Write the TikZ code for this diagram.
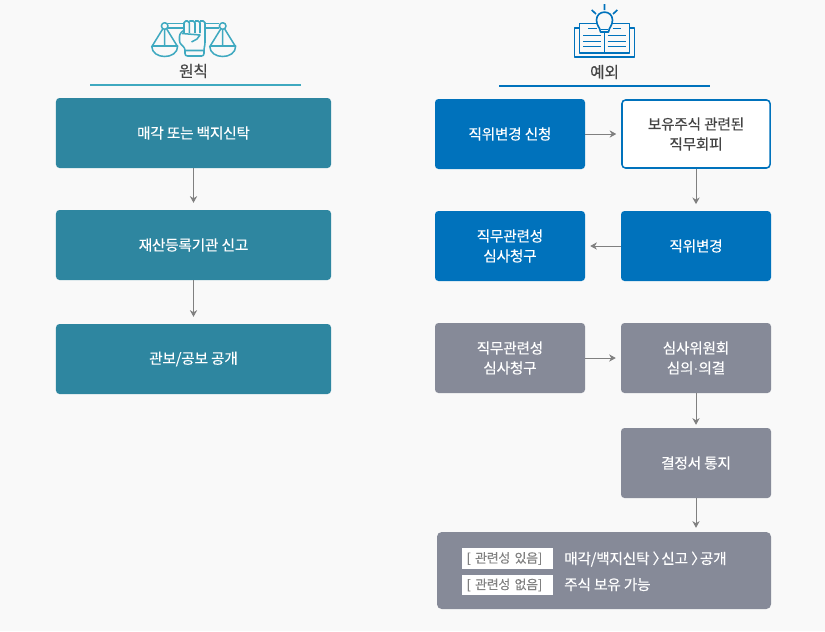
\documentclass[tikz,border=0pt]{standalone}
\usepackage{fontspec}
\setmainfont{Noto Sans CJK KR}
\newfontfamily\medfont{Noto Sans CJK KR}[FakeBold=0.35, LetterSpace=-1.5]
\newfontfamily\dotfont{Liberation Sans}
\usetikzlibrary{arrows.meta, positioning}
\definecolor{pageGray}{HTML}{F9F9F9}
\definecolor{boxTeal}{HTML}{2E86A0}
\definecolor{iconTeal}{HTML}{3FA9C0}
\definecolor{boxBlue}{HTML}{0072BC}
\definecolor{boxGray}{HTML}{868A98}
\definecolor{arrowGray}{HTML}{808080}
\definecolor{textDark}{HTML}{444444}
\tikzset{
  arrowA/.style={-{Stealth[length=2mm, width=2.2mm]}, color=arrowGray, line width=0.7pt, shorten >=0.15cm},
  boxT/.style={rectangle, rounded corners=3pt, fill=boxTeal, text=white, align=center,
               font=\medfont\fontsize{12.5}{17}\selectfont, minimum width=8.25cm, minimum height=2.1cm},
  boxF/.style={rectangle, rounded corners=3pt, text=white, align=center,
               font=\medfont\fontsize{12.5}{17}\selectfont, minimum width=4.5cm, minimum height=2.1cm},
  boxB/.style={boxF, fill=boxBlue},
  boxG/.style={boxF, fill=boxGray},
  boxW/.style={boxF, fill=white, draw=boxBlue, line width=1.3pt, text=textDark,
               minimum width=4.44cm, minimum height=2.04cm},
  tagbox/.style={rectangle, fill=white, text=arrowGray, inner ysep=0pt, inner xsep=0.135cm, text width=2.46cm,
                 align=left, minimum height=0.62cm, font=\medfont\fontsize{11}{12}\selectfont},
  tagtext/.style={anchor=west, inner sep=0pt, text=white, font=\medfont\fontsize{12.5}{14}\selectfont},
  headlab/.style={text=textDark, inner sep=0pt, font=\medfont\fontsize{13.5}{14}\selectfont},
  icoT/.style={draw=iconTeal, line width=1.3pt, line join=round},
  icoB/.style={draw=boxBlue, line width=1.4pt, line join=round},
}
\begin{document}
\begin{tikzpicture}[x=0.03cm, y=-0.03cm]
  \fill[pageGray] (0,0) rectangle (825,631);
  \useasboundingbox (0,0) rectangle (825,631);
  % headings
  \node[headlab] (hLeft) at (193.5,71) {원칙};
  \node[headlab] (hRight) at (604.5,72) {예외};
  \draw[iconTeal, line width=1.3pt] (90,85) -- (300.5,85);
  \draw[boxBlue, line width=1.3pt] (499,86) -- (710,86);
  % scale icon
  \draw[icoT] (168,23.5) -- (184,23.5) (168,28) -- (184,28) (205,23.5) -- (219,23.5) (205,28) -- (219,28);
  \foreach \x in {164.7,222.7} {
    \draw[icoT] (\x,26) circle[radius=3.3];
    \draw[icoT] (\x-2,29) -- (\x-12.5,46) (\x+2,29) -- (\x+12.5,46) (\x,29.3) -- (\x,46);
    \draw[icoT] (\x-13,46) -- (\x+13,46) .. controls (\x+13,60) and (\x-13,60) .. (\x-13,46);
  }
  \draw[icoT, rounded corners=1.5pt] (184,33) -- (184,21) -- (189.3,21) -- (189.3,33) (189.3,21) -- (195,21) -- (195,33) (195,21) -- (200,21) -- (200,33) (200,21) -- (205,21) -- (205,36);
  \draw[icoT, rounded corners=2pt] (184,30) -- (179.5,34) -- (179.5,43) -- (185,48) -- (185,56) -- (204,56) -- (204,48) -- (205,45) -- (205,34);
  \draw[icoT] (185,50.5) -- (204,50.5) (182,33.5) -- (200,35) -- (197,39) -- (191.5,42);
  % book icon
  \draw[icoB] (579,28) -- (574.5,28) -- (574.5,57) -- (634.5,57) -- (634.5,28) -- (630,28);
  \draw[icoB] (597,23.5) -- (579.5,23.5) -- (579.5,53) -- (629.5,53) -- (629.5,23.5) -- (612,23.5);
  \draw[icoB] (604.5,33) -- (604.5,53);
  \foreach \y in {35.7,41.3,46.7} {
    \draw[icoB, line width=1pt] (583,\y) -- (601,\y) (607.5,\y) -- (626,\y);
  }
  \draw[icoB, line width=1pt] (588,28.7) -- (597,28.7) (612.5,28.7) -- (621,28.7);
  \draw[icoB] (600.5,32) .. controls (600,27) and (596.5,26) .. (596.5,20) .. controls (596.5,9.5) and (612.5,9.5) .. (612.5,20) .. controls (612.5,26) and (609,27) .. (608.5,32) -- cycle;
  \draw[icoB, line width=1pt] (601,29.5) -- (608,29.5);
  \draw[icoB] (604.5,4) -- (604.5,10) (591.7,10) -- (596,14) (617.3,10) -- (613,14);
  % left column
  \node[boxT] (sale) at (193.5,133) {매각 또는 백지신탁};
  \node[boxT] (report) at (193.5,245) {재산등록기관 신고};
  \node[boxT] (notice) at (193.5,359) {관보/공보 공개};
  \draw[arrowA, shorten >=0.21cm] (sale) -- (report);
  \draw[arrowA, shorten >=0.21cm] (report) -- (notice);
  % right column
  \node[boxB] (apply) at (510,134) {직위변경 신청};
  \node[boxW] (avoid) at (696,134) {보유주식 관련된\\직무회피};
  \node[boxB] (change) at (696,246) {직위변경};
  \node[boxB] (claimB) at (510,246) {직무관련성\\심사청구};
  \node[boxG] (claimG) at (510,358) {직무관련성\\심사청구};
  \node[boxG] (review) at (696,358) {심사위원회\\심의{\dotfont ·}의결};
  \node[boxG] (decide) at (696,463) {결정서 통지};
  \node[rectangle, rounded corners=4pt, fill=boxGray, minimum width=10.02cm, minimum height=2.31cm] (result) at (604,570.5) {};
  \draw[arrowA] (apply) -- (avoid);
  \draw[arrowA, shorten >=0.2cm] (avoid) -- (change);
  \draw[arrowA] (change) -- (claimB);
  \draw[arrowA] (claimG) -- (review);
  \draw[arrowA, shorten >=0.09cm] (review) -- (decide);
  \draw[arrowA, shorten >=0.12cm] (decide.south) -- (decide.south |- result.north);
  % result rows
  \node[tagbox] (tagYes) at (507.5,558.5) {[ 관련성 있음]};
  \node[tagbox] (tagNo) at (507.5,585) {[ 관련성 없음]};
  \node[tagtext] (textYes) at (564,559) {매각/백지신탁 〉\hspace{-0.4em}신고 〉\hspace{-0.4em}공개};
  \node[tagtext] (textNo) at (564,584.5) {주식 보유 가능};
\end{tikzpicture}
\end{document}
